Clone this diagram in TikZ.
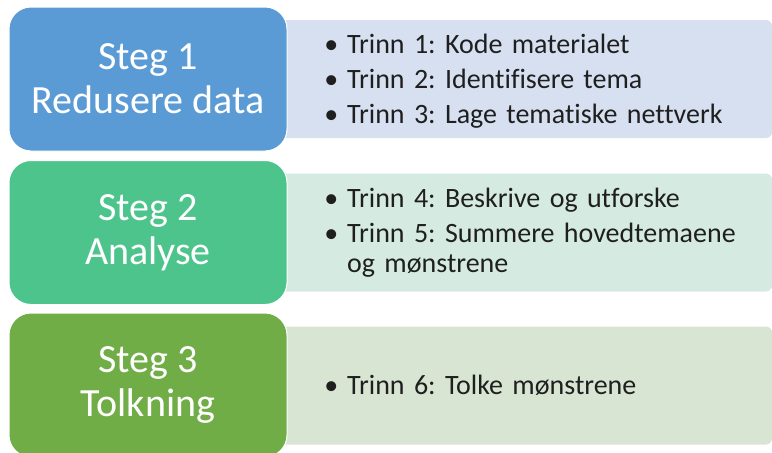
\documentclass[tikz,border=0pt]{standalone}
\usepackage{fontspec}
\setmainfont{Carlito}[Ligatures=NoCommon]
\usepackage{enumitem}
\usetikzlibrary{positioning}
\frenchspacing

\definecolor{stegblue}{HTML}{5B9BD5}
\definecolor{steglightblue}{HTML}{D6E0F0}
\definecolor{stegteal}{HTML}{4EC48D}
\definecolor{steglightteal}{HTML}{D5EBE1}
\definecolor{steggreen}{HTML}{70AD47}
\definecolor{steglightgreen}{HTML}{D9E5D3}

\tikzset{
  stegbox/.style={draw=white, line width=1pt, rounded corners=22pt,
    minimum width=278pt, minimum height=144pt, text=white, align=center,
    font=\fontsize{40}{44}\selectfont},
  trinnbox/.style={rounded corners=6pt, minimum width=522pt, minimum height=118pt},
  trinntext/.style={anchor=west, text width=425pt, inner sep=0pt,
    text=black!88, font=\fontsize{28}{30}\selectfont}
}
\setlist[itemize]{label=\textbullet, leftmargin=19pt, labelsep=9pt,
  itemsep=5pt, topsep=0pt, partopsep=0pt, parsep=0pt}

\begin{document}
\begin{tikzpicture}[x=1pt,y=-1pt]
    \useasboundingbox (0,0) rectangle (772,453);
    \clip (0,0) rectangle (772,453);
    % right hand boxes with the steps
    \node[trinnbox, fill=steglightblue] (trinnA) at (511,79) {};
    \node[trinnbox, fill=steglightteal] (trinnB) at (511,232.5) {};
    \node[trinnbox, fill=steglightgreen] (trinnC) at (511,385.5) {};
    % left hand boxes
    \node[stegbox, fill=stegblue] (stegA) at (148,79) {Steg 1\\Redusere data};
    \node[stegbox, fill=stegteal] (stegB) at (148,232.5) {Steg 2\\Analyse};
    \node[stegbox, fill=steggreen] (stegC) at (148,385) {Steg 3\\Tolkning};
    % lists
    \node[trinntext] (listA) at (328,76) {\begin{itemize}
      \item Trinn 1: Kode materialet
      \item Trinn 2: Identifisere tema
      \item Trinn 3: Lage tematiske nettverk
    \end{itemize}};
    \node[trinntext] (listB) at (328,227.5) {\begin{itemize}
      \item Trinn 4: Beskrive og utforske
      \item Trinn 5: Summere hovedtemaene og mønstrene
    \end{itemize}};
    \node[trinntext] (listC) at (328,380.5) {\begin{itemize}
      \item Trinn 6: Tolke mønstrene
    \end{itemize}};
\end{tikzpicture}
\end{document}
